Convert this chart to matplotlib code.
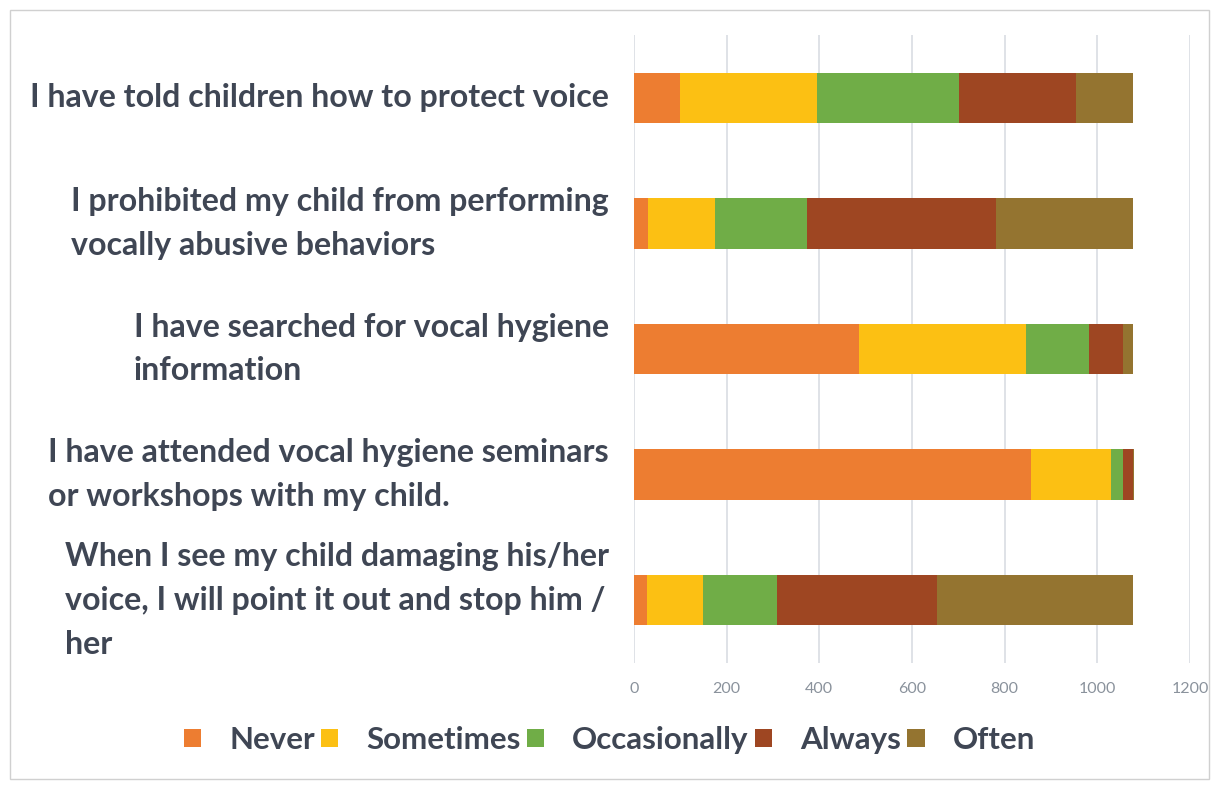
"""
 parents' vocal hygiene behaviours, stacked horizontal bars
"""

import numpy as np
from matplotlib import pyplot as plt
from matplotlib.patches import Rectangle

plt.rcParams['font.family'] = ['Lato', 'DejaVu Sans']

questions = [
    'I have told children how to protect voice',
    'I prohibited my child from performing\nvocally abusive behaviors',
    'I have searched for vocal hygiene\ninformation',
    'I have attended vocal hygiene seminars\nor workshops with my child.',
    'When I see my child damaging his/her\nvoice, I will point it out and stop him /\nher',
]
answers = ['Never', 'Sometimes', 'Occasionally', 'Always', 'Often']

never = [100, 31, 485, 857, 29]
sometimes = [295, 144, 360, 173, 120]
occasionally = [307, 199, 138, 26, 160]
always = [253, 408, 73, 20, 344]
often = [121, 294, 20, 4, 423]

colors = ['#ed7d31', '#fcc013', '#70ad47', '#9e4622', '#947430']

text_color = '#3f4654'
fontsize = 23.1

fig = plt.figure(figsize=(12.19, 7.89), dpi=100)
ax = fig.add_axes([634 / 1219, 1 - 663 / 789, (1190 - 634) / 1219, (663 - 35) / 789])

y = np.arange(len(questions))
left = np.zeros(len(questions))
for name, vals, c in zip(answers, [never, sometimes, occasionally, always, often], colors):
    ax.barh(y, vals, left=left, height=0.4, color=c, label=name, zorder=3)
    left += np.array(vals)

ax.set_xlim(0, 1200)
ax.set_ylim(len(questions) - 0.5, -0.5)
ax.set_xticks(range(0, 1201, 200))
ax.xaxis.grid(True, color='#d9dde3', linewidth=1.2, zorder=0)
for s in ax.spines.values():
    s.set_visible(False)
ax.tick_params(axis='x', length=0, labelsize=11.5, labelcolor='#8a929c', pad=14)
ax.tick_params(axis='y', length=0)
ax.set_yticks([])

for yi, q in zip(y, questions):
    ax.text(-0.045 * 1200, yi, q, ha='right', va='center', multialignment='left',
            fontsize=fontsize, fontweight='bold', color=text_color, linespacing=1.62)

leg = fig.legend(loc='center', bbox_to_anchor=(0.5, 1 - 740 / 789), ncol=5, frameon=False,
                 handlelength=0.55, handleheight=0.55, handletextpad=0.9,
                 columnspacing=0.2, prop={'weight': 'bold', 'size': 22.5})
for t in leg.get_texts():
    t.set_color(text_color)

# thin frame around the whole picture
fig.patches.append(Rectangle((10 / 1219, 10 / 789), 1 - 20 / 1219, 1 - 20 / 789,
                             transform=fig.transFigure, fill=False, edgecolor='#d0d0d0', linewidth=1))

plt.savefig('out.png', dpi=100)
